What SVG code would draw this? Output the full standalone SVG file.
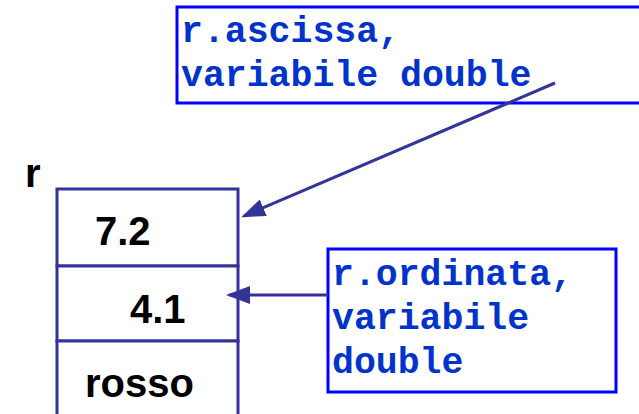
<svg xmlns="http://www.w3.org/2000/svg" width="639" height="414" viewBox="0 0 639 414">
<style>
.cell{fill:#fff;stroke:#333399;stroke-width:3}
.note{fill:#fff;stroke:#0000ff;stroke-width:3}
.val{font-family:"Liberation Sans",Arial,sans-serif;font-weight:bold;font-size:40px;fill:#000}
.code{font-family:"Liberation Mono","Courier New",monospace;font-weight:bold;font-size:36.5px;fill:#0033cc}
.conn{stroke:#333399;stroke-width:3;fill:none}
</style>
<defs>
<marker id="ah" markerWidth="8" markerHeight="6" refX="7" refY="3" orient="auto" markerUnits="strokeWidth">
<path d="M0,0 L8,3 L0,6 Z" fill="#333399"/>
</marker>
</defs>
<rect width="639" height="414" fill="#fff"/>
<g id="stack">
<text class="val" x="25" y="187">r</text>
<rect class="cell" x="57" y="189" width="181" height="77"/>
<rect class="cell" x="57" y="266" width="181" height="75"/>
<rect class="cell" x="57" y="341" width="181" height="80"/>
<text class="val" x="95" y="245">7.2</text>
<text class="val" x="130" y="323">4.1</text>
<text class="val" x="85" y="397">rosso</text>
</g>
<g id="note-ascissa">
<rect class="note" x="177" y="7" width="470" height="96"/>
<text class="code" x="181" y="42">r.ascissa,</text>
<text class="code" x="181" y="86">variabile double</text>
</g>
<g id="note-ordinata">
<rect class="note" x="328" y="249" width="288" height="143"/>
<text class="code" x="332" y="285">r.ordinata,</text>
<text class="code" x="332" y="329">variabile</text>
<text class="code" x="332" y="373">double</text>
</g>
<g id="connectors">
<line class="conn" x1="555" y1="83" x2="244" y2="216" marker-end="url(#ah)"/>
<line class="conn" x1="328" y1="295" x2="229" y2="295" marker-end="url(#ah)"/>
</g>
</svg>
